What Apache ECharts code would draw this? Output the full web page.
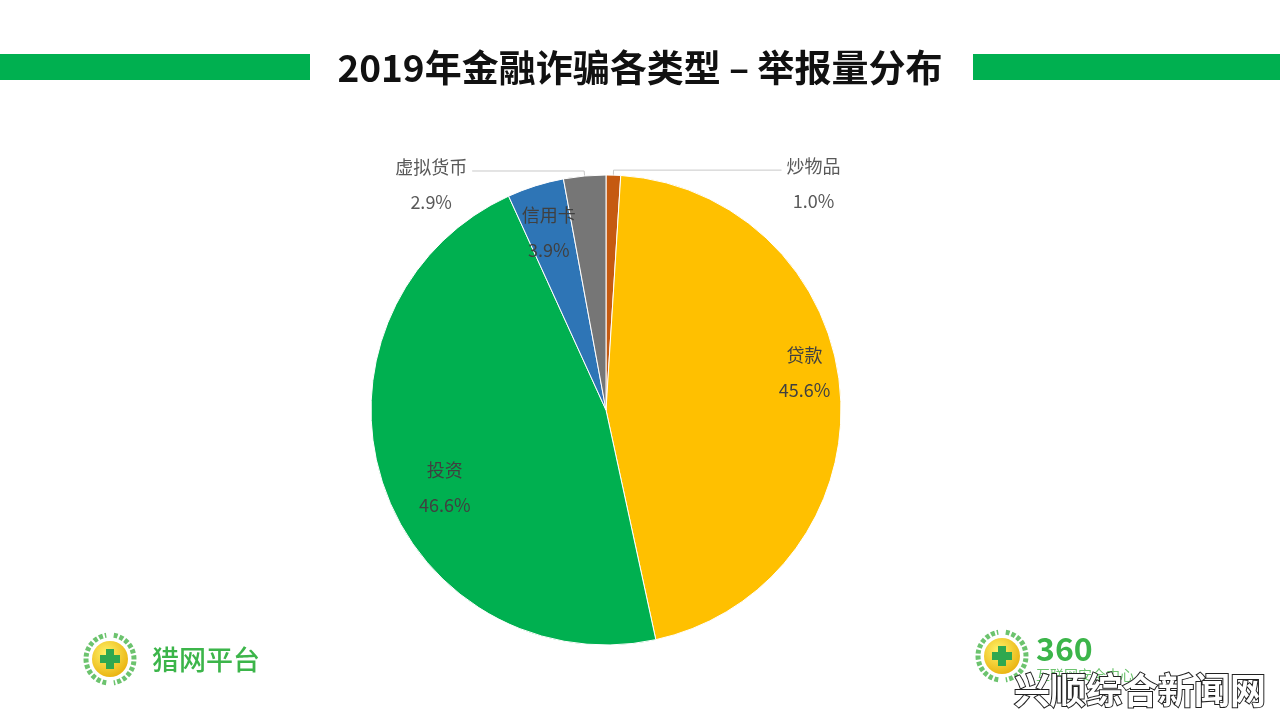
<!DOCTYPE html>
<html>
<head>
<meta charset="utf-8">
<script src="https://cdn.jsdelivr.net/npm/echarts@6/dist/echarts.min.js"></script>
<style>html,body{margin:0;padding:0;background:#fff;}#c{width:1280px;height:720px;}</style>
</head>
<body>
<div id="c"></div>
<script>
const titleText = '2019年金融诈骗各类型 – 举报量分布';
const categories = ['炒物品', '贷款', '投资', '信用卡', '虚拟货币'];
const shares = [1.0, 45.6, 46.6, 3.9, 2.9];
const colors = ['#C55A11', '#FFC000', '#00B050', '#2E75B6', '#767676'];
const outsideNames = ['炒物品', '虚拟货币'];

const FONT = '"Noto Sans CJK SC", "Noto Sans", sans-serif';
const chart = echarts.init(document.getElementById('c'));

// label placement tweaks (styling only)
const leaderLen2 = { '炒物品': 168, '虚拟货币': 112 };
const insideShift = { '贷款': [8, -23], '投资': [20, 17], '信用卡': [0, 5] };

const baseData = categories.map((n, i) => ({
  name: n, value: shares[i],
  itemStyle: { color: colors[i] },
  label: { show: outsideNames.includes(n) },
  labelLine: { show: outsideNames.includes(n), length2: leaderLen2[n] || 100 }
}));
const overlayData = categories.map((n, i) => ({
  name: n, value: shares[i],
  label: { show: !outsideNames.includes(n) }
}));

function fmt(p) { return '{n|' + p.name + '}\n{p|' + p.value.toFixed(1) + '%}'; }

const option = {
  backgroundColor: '#ffffff',
  animation: false,
  title: {
    text: titleText, left: 'center', top: 44,
    textStyle: { fontFamily: FONT, fontSize: 37, fontWeight: 'bold', color: '#111' }
  },
  graphic: [
    { type: 'rect', shape: { x: 0, y: 54, width: 310, height: 26 }, style: { fill: '#00B050' } },
    { type: 'rect', shape: { x: 973, y: 54, width: 307, height: 26 }, style: { fill: '#00B050' } },
    // left logo
    { type: 'arc', shape: { cx: 110, cy: 659, r: 24, startAngle: Math.PI * 0.55, endAngle: Math.PI * 1.45 }, style: { stroke: '#6cc36e', lineWidth: 5, lineDash: [4, 2], fill: null } },
    { type: 'arc', shape: { cx: 110, cy: 659, r: 24, startAngle: -Math.PI * 0.45, endAngle: Math.PI * 0.45 }, style: { stroke: '#6cc36e', lineWidth: 5, lineDash: [4, 2], fill: null } },
    { type: 'circle', shape: { cx: 110, cy: 659, r: 18 }, style: { fill: new echarts.graphic.RadialGradient(0.4, 0.35, 0.8, [{ offset: 0, color: '#fff36a' }, { offset: 1, color: '#e6a800' }]) } },
    { type: 'rect', shape: { x: 106, y: 649, width: 8, height: 20 }, style: { fill: '#2fa84f' } },
    { type: 'rect', shape: { x: 100, y: 655, width: 20, height: 8 }, style: { fill: '#2fa84f' } },
    { type: 'text', style: { x: 152, y: 660, text: '猎网平台', fill: '#3cb54a', font: '500 27px ' + FONT, verticalAlign: 'middle' } },
    // right logo
    { type: 'arc', shape: { cx: 1002, cy: 656, r: 24, startAngle: Math.PI * 0.55, endAngle: Math.PI * 1.45 }, style: { stroke: '#6cc36e', lineWidth: 5, lineDash: [4, 2], fill: null } },
    { type: 'arc', shape: { cx: 1002, cy: 656, r: 24, startAngle: -Math.PI * 0.45, endAngle: Math.PI * 0.45 }, style: { stroke: '#6cc36e', lineWidth: 5, lineDash: [4, 2], fill: null } },
    { type: 'circle', shape: { cx: 1002, cy: 656, r: 18 }, style: { fill: new echarts.graphic.RadialGradient(0.4, 0.35, 0.8, [{ offset: 0, color: '#fff36a' }, { offset: 1, color: '#e6a800' }]) } },
    { type: 'rect', shape: { x: 998, y: 646, width: 8, height: 20 }, style: { fill: '#2fa84f' } },
    { type: 'rect', shape: { x: 992, y: 652, width: 20, height: 8 }, style: { fill: '#2fa84f' } },
    { type: 'text', style: { x: 1036, y: 649, text: '360', fill: '#3cb54a', font: 'bold 32px ' + FONT, verticalAlign: 'middle' } },
    { type: 'text', style: { x: 1036, y: 675, text: '互联网安全中心', fill: '#6cc36e', font: '14px ' + FONT, verticalAlign: 'middle' } },
    { type: 'text', z: 100, style: { x: 1140, y: 690, text: '兴顺综合新闻网', fill: '#ffffff', stroke: '#222', lineWidth: 2, font: 'bold 36px ' + FONT, align: 'center', verticalAlign: 'middle' } }
  ],
  series: [
    {
      type: 'pie', center: [606, 410], radius: [0, 235], startAngle: 90, clockwise: true,
      avoidLabelOverlap: false,
      itemStyle: { borderColor: '#ffffff', borderWidth: 1 },
      data: baseData,
      label: {
        position: 'outside', formatter: fmt, padding: [28, 0, 0, 0],
        rich: {
          n: { fontFamily: FONT, fontSize: 18, color: '#595959', lineHeight: 35, align: 'center' },
          p: { fontFamily: FONT, fontSize: 18, color: '#595959', lineHeight: 35, align: 'center' }
        }
      },
      labelLine: { length: 5, lineStyle: { color: '#c8c8c8', width: 1 } }
    },
    {
      type: 'pie', center: [606, 410], radius: [141, 235], startAngle: 90, clockwise: true,
      silent: true, avoidLabelOverlap: false,
      itemStyle: { color: 'rgba(0,0,0,0)' },
      data: overlayData,
      labelLayout: function (p) {
        const s = insideShift[categories[p.dataIndex]] || [0, 0];
        return { dx: s[0], dy: s[1] };
      },
      label: {
        position: 'inside', formatter: fmt,
        rich: {
          n: { fontFamily: FONT, fontSize: 18, color: '#404040', lineHeight: 35, align: 'center' },
          p: { fontFamily: FONT, fontSize: 18, color: '#404040', lineHeight: 35, align: 'center' }
        }
      },
      labelLine: { show: false }
    }
  ]
};
chart.setOption(option);
</script>
</body>
</html>
